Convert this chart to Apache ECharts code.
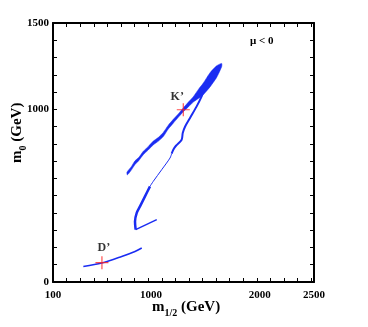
<!DOCTYPE html>
<html>
<head>
<meta charset="utf-8">
<script src="https://cdn.jsdelivr.net/npm/echarts@6/dist/echarts.min.js"></script>
<style>
  html, body { margin: 0; padding: 0; background: #fff; }
  #container { width: 368px; height: 327px; }
</style>
</head>
<body>
<div id="container"></div>
<script>
// tick labels
var xTickLabels = [100, 1000, 2000, 2500];
var yTickLabels = [0, 1000, 1500];

// main (thick) band, upper and lower edges [m1/2, m0]
var bandTop = [[780, 636], [820, 668], [854, 702], [890, 722], [930, 757], [975, 784], [1022, 816], [1070, 838], [1114, 866], [1160, 908], [1206, 942], [1250, 972], [1298, 1008], [1345, 1042], [1390, 1073], [1440, 1118], [1482, 1152], [1544, 1212], [1605, 1252], [1651, 1266]];
var bandBottom = [[784, 620], [820, 648], [854, 680], [890, 704], [930, 737], [975, 764], [1022, 794], [1070, 816], [1114, 842], [1160, 886], [1206, 920], [1250, 952], [1298, 986], [1345, 1014], [1390, 1042], [1440, 1064], [1482, 1085], [1544, 1130], [1605, 1185], [1651, 1247]];

// right branch pieces
var branchUpper = [[1479, 1096], [1467, 1075], [1421, 1017], [1360, 950], [1314, 899], [1293, 863], [1283, 824], [1231, 789], [1206, 766], [1191, 743]];
var branchThin = [[1191, 743], [1176, 718], [1099, 650], [1022, 583], [992, 554]];
var branchLower = [[992, 554], [946, 496], [900, 438], [870, 400], [854, 351], [860, 303]];
var branchTail = [[860, 303], [1054, 361]];

// D' strip
var dLine = [[379, 90], [548, 110], [732, 148], [854, 177], [916, 197]];

// benchmark points
var pointNames = ['D\u2019', 'K\u2019'];
var pointValues = [[550, 112], [1298, 998]];

var xTicks = [];
for (var t = 100; t <= 2500; t += 125) xTicks.push(t);

var dom = document.getElementById('container');
var myChart = echarts.init(dom);

var blue = '#1a2cf2';
var font = 'Liberation Serif';

function lineSeries(data, width) {
    return {
        type: 'line',
        data: data,
        showSymbol: false,
        symbol: 'none',
        smooth: 0.3,
        lineStyle: { color: blue, width: width },
        silent: true,
        z: 3
    };
}

var axisLabelStyle = {
    fontFamily: font,
    fontWeight: 'bold',
    fontSize: 11,
    color: '#000',
    formatter: function (v) { return String(v); }
};

var frameLine = { onZero: false, lineStyle: { color: '#000', width: 2 } };

var option = {
    animation: false,
    grid: { left: 53, right: 54, top: 23, bottom: 45 },
    xAxis: [{
        type: 'value',
        min: 100,
        max: 2500,
        axisLine: frameLine,
        axisTick: { inside: true, length: 4, customValues: xTicks, lineStyle: { color: '#000', width: 1 } },
        axisLabel: Object.assign({ customValues: xTickLabels, margin: 8 }, axisLabelStyle),
        splitLine: { show: false }
    }, {
        type: 'value',
        position: 'top',
        min: 100,
        max: 2500,
        axisLine: frameLine,
        axisTick: { inside: true, length: 4, customValues: xTicks, lineStyle: { color: '#000', width: 1 } },
        axisLabel: { show: false },
        splitLine: { show: false }
    }],
    yAxis: [{
        type: 'value',
        min: 0,
        max: 1500,
        interval: 100,
        axisLine: frameLine,
        axisTick: { inside: true, length: 4, lineStyle: { color: '#000', width: 1 } },
        axisLabel: Object.assign({ customValues: yTickLabels, margin: 4 }, axisLabelStyle),
        splitLine: { show: false }
    }, {
        type: 'value',
        position: 'right',
        min: 0,
        max: 1500,
        interval: 100,
        axisLine: frameLine,
        axisTick: { inside: true, length: 4, lineStyle: { color: '#000', width: 1 } },
        axisLabel: { show: false },
        splitLine: { show: false }
    }],
    graphic: [{
        type: 'text',
        left: 152,
        top: 300,
        style: {
            text: '{m|m}{s|1/2}{m| (GeV)}',
            rich: {
                m: { fontFamily: font, fontWeight: 'bold', fontSize: 15, fill: '#000', verticalAlign: 'bottom' },
                s: { fontFamily: font, fontWeight: 'bold', fontSize: 10, fill: '#000', verticalAlign: 'bottom', padding: [0, 0, -3, 0] }
            }
        }
    }, {
        type: 'text',
        x: 10,
        y: 163,
        rotation: Math.PI / 2,
        style: {
            text: '{m|m}{s|0}{m| (GeV)}',
            rich: {
                m: { fontFamily: font, fontWeight: 'bold', fontSize: 15, fill: '#000', verticalAlign: 'bottom' },
                s: { fontFamily: font, fontWeight: 'bold', fontSize: 10, fill: '#000', verticalAlign: 'bottom', padding: [0, 0, -3, 0] }
            }
        }
    }, {
        type: 'text',
        left: 250,
        top: 36,
        style: {
            text: '\u03bc < 0',
            fontFamily: font,
            fontWeight: 'bold',
            fontSize: 11,
            fill: '#000'
        }
    }],
    series: [{
        type: 'custom',
        silent: true,
        data: [0],
        z: 3,
        renderItem: function (params, api) {
            var pts = bandTop.map(function (p) { return api.coord(p); });
            var low = bandBottom.slice().reverse().map(function (p) { return api.coord(p); });
            return {
                type: 'polygon',
                shape: { points: pts.concat(low), smooth: 0.2 },
                style: { fill: blue, stroke: blue, lineWidth: 0.5 }
            };
        }
    },
        lineSeries(branchUpper, 2),
        lineSeries(branchThin, 1),
        lineSeries(branchLower, 2.5),
        lineSeries(branchTail, 1.5),
        lineSeries(dLine, 1.5),
    {
        type: 'scatter',
        z: 5,
        symbol: 'path://M0,5.5h11v1h-11z M5,0h1v12h-1z',
        symbolSize: [13, 13],
        itemStyle: { color: '#ff2020' },
        data: pointNames.map(function (n, i) {
            return {
                name: n,
                value: pointValues[i],
                label: { offset: i === 0 ? [2, 0] : [-6, 2] }
            };
        }),
        label: {
            show: true,
            position: 'top',
            distance: 2,
            formatter: '{b}',
            fontFamily: font,
            fontWeight: 'bold',
            fontSize: 12,
            color: '#000'
        }
    }]
};

myChart.setOption(option);
</script>
</body>
</html>
